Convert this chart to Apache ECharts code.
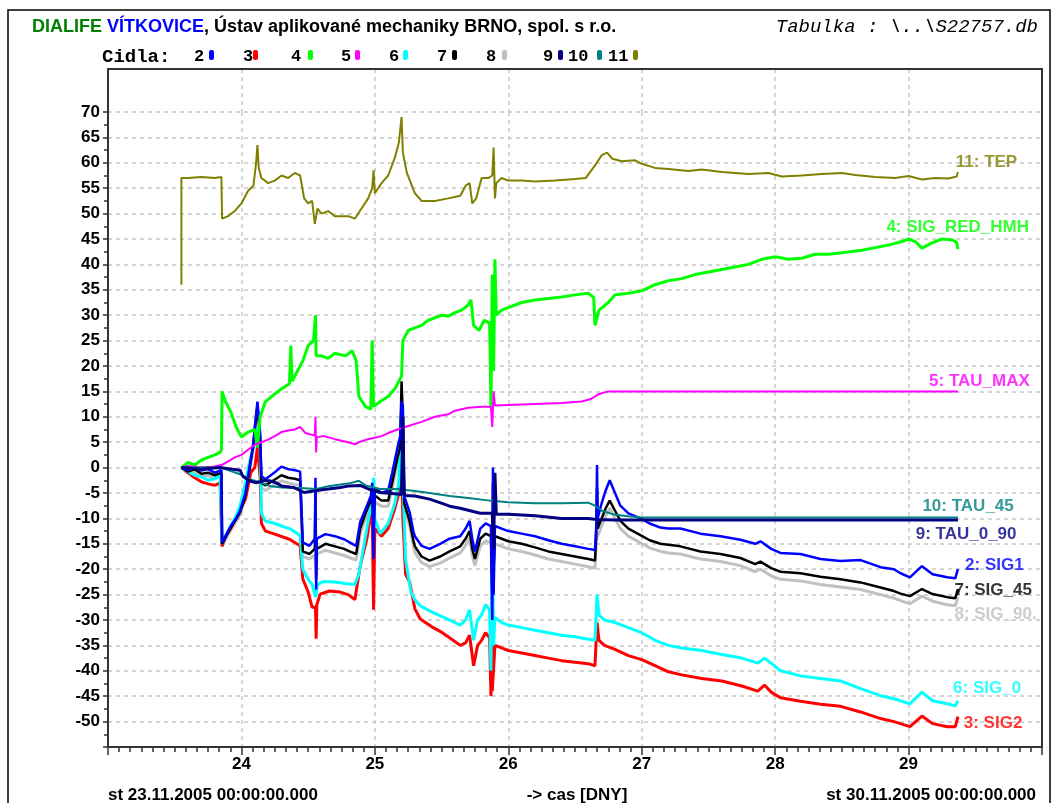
<!DOCTYPE html>
<html>
<head>
<meta charset="utf-8">
<title>Tabulka S22757</title>
<script src="https://cdn.jsdelivr.net/npm/echarts@6/dist/echarts.min.js"></script>
<style>
  html, body { margin: 0; padding: 0; background: #fff; }
  #myChart { width: 1057px; height: 803px; }
</style>
</head>
<body>
<div id="myChart"></div>
<script>
// cas [dny] , hodnota
var tep = [[23.55,36],[23.55,57],[23.6,57],[23.7,57.2],[23.8,57],[23.85,57.2],[23.855,49],[23.9,49.5],[23.95,50.5],[24.0,52],[24.05,54.5],[24.09,55.5],[24.11,60],[24.12,63.5],[24.13,59],[24.15,57],[24.2,56],[24.25,56.5],[24.3,57.5],[24.35,57],[24.4,58],[24.44,57.5],[24.47,53],[24.5,52],[24.53,52.5],[24.55,48],[24.57,51],[24.6,50],[24.65,50.5],[24.7,49.5],[24.8,49.5],[24.85,49],[24.9,51],[24.95,53],[24.98,55],[24.99,58.5],[25.0,54],[25.05,56],[25.1,57.5],[25.15,61],[25.18,64],[25.2,69],[25.21,62],[25.24,58],[25.3,54],[25.35,52.5],[25.45,52.5],[25.55,53],[25.64,53.5],[25.68,55.5],[25.71,56],[25.73,52],[25.76,53],[25.8,57],[25.85,57],[25.88,57.5],[25.89,63],[25.9,53],[25.91,56],[25.95,57],[26.0,56.5],[26.1,56.5],[26.2,56.3],[26.35,56.5],[26.5,56.8],[26.58,57],[26.65,59.5],[26.7,61.5],[26.74,62],[26.78,60.8],[26.85,60.3],[26.95,60.5],[27.0,59.8],[27.1,59],[27.2,58.8],[27.35,58.4],[27.45,58.7],[27.6,58.2],[27.8,57.8],[27.95,58],[28.05,57.3],[28.2,57.5],[28.35,57.8],[28.5,58],[28.6,57.6],[28.75,57.2],[28.9,57],[29.0,57.4],[29.1,56.7],[29.2,57],[29.3,56.9],[29.36,57.3],[29.37,58.2]];
var sigRedHmh = [[23.55,0],[23.6,1],[23.65,0.5],[23.7,1.5],[23.75,2],[23.8,2.5],[23.84,3],[23.85,3.5],[23.855,15],[23.88,13],[23.92,11],[23.96,8],[24.0,6],[24.05,7],[24.1,7.5],[24.12,4],[24.14,10],[24.18,13],[24.25,14.5],[24.3,15.5],[24.36,16.5],[24.37,24],[24.38,17],[24.42,19],[24.46,21],[24.5,24],[24.54,25],[24.555,30],[24.56,22],[24.6,22],[24.65,21.5],[24.7,22.5],[24.78,22],[24.83,23],[24.86,21],[24.88,14],[24.93,12],[24.97,11.5],[24.98,25],[24.99,12],[25.04,13],[25.1,14],[25.15,15.5],[25.18,17],[25.2,18],[25.21,25],[25.25,27],[25.3,27.5],[25.35,28],[25.4,29],[25.45,29.5],[25.5,30],[25.55,29.8],[25.6,30.5],[25.65,31],[25.7,32],[25.72,33],[25.74,28],[25.78,27],[25.82,29],[25.86,28.5],[25.87,12],[25.88,38],[25.89,19],[25.9,41],[25.91,30],[25.95,31],[26.0,31.5],[26.1,32.5],[26.2,33],[26.3,33.3],[26.4,33.6],[26.5,34],[26.6,34.3],[26.64,33.5],[26.65,28],[26.68,31],[26.75,32.5],[26.8,34],[26.9,34.3],[27.0,34.8],[27.1,36],[27.2,36.8],[27.3,37.2],[27.4,38],[27.5,38.5],[27.6,39],[27.7,39.5],[27.8,40],[27.9,41],[28.0,41.5],[28.1,41],[28.2,41.2],[28.3,42],[28.4,42],[28.5,42.3],[28.65,42.8],[28.75,43.3],[28.85,43.8],[28.95,44.5],[29.0,45],[29.05,44.5],[29.1,43.2],[29.18,44.3],[29.25,45],[29.33,44.8],[29.36,44.3],[29.37,43]];
var tauMax = [[23.55,0],[23.6,0.3],[23.7,0],[23.8,0.2],[23.85,0.5],[23.9,1.2],[23.95,2],[24.0,2.5],[24.05,3.5],[24.1,4.5],[24.15,5],[24.2,5.5],[24.25,6.2],[24.3,7],[24.35,7.3],[24.4,7.5],[24.44,8],[24.48,6.8],[24.55,6.3],[24.555,10],[24.56,3],[24.565,6],[24.62,6.2],[24.7,5.6],[24.8,5],[24.85,4.6],[24.9,5.2],[24.95,5.6],[25.05,6.2],[25.1,6.8],[25.17,7.5],[25.25,8.2],[25.35,9],[25.45,10],[25.55,10.5],[25.6,11.2],[25.7,11.8],[25.8,12],[25.87,12],[25.88,8],[25.89,15],[25.9,12.2],[26.0,12.3],[26.2,12.5],[26.4,12.7],[26.55,13],[26.62,13.5],[26.68,14.5],[26.75,15],[27.0,15],[27.5,15],[28.0,15],[28.5,15],[29.0,15],[29.37,15]];
var tau45 = [[23.55,0],[23.7,0],[23.84,0],[23.9,-0.5],[23.99,-1.3],[24.06,-2.3],[24.14,-2.9],[24.21,-3.6],[24.3,-3.9],[24.44,-4],[24.56,-4.2],[24.66,-3.6],[24.81,-3.1],[24.88,-2.6],[24.93,-3.5],[25.04,-4.2],[25.17,-4.2],[25.3,-4.6],[25.41,-5],[25.56,-5.6],[25.7,-6],[25.86,-6.5],[26.0,-6.8],[26.2,-7],[26.4,-7],[26.6,-6.9],[26.65,-7.5],[26.7,-8.5],[26.8,-9.3],[26.9,-9.6],[27.0,-9.8],[27.5,-9.8],[28.0,-9.8],[28.5,-9.8],[29.0,-9.8],[29.37,-9.8]];
var tau090 = [[23.55,0],[23.7,-0.3],[23.84,0],[23.9,-0.2],[23.99,-0.5],[24.01,-1.7],[24.06,-2.6],[24.11,-3],[24.16,-2.6],[24.21,-2.6],[24.26,-3],[24.3,-3.6],[24.39,-3.9],[24.47,-4.9],[24.54,-4.6],[24.62,-4.3],[24.74,-3.9],[24.81,-3.6],[24.89,-3.5],[24.96,-4.3],[25.04,-4.9],[25.17,-5.2],[25.2,-5.3],[25.21,10],[25.22,-5.5],[25.3,-5.6],[25.41,-6.2],[25.52,-7.2],[25.56,-7.6],[25.64,-8],[25.79,-9],[25.88,-9],[25.89,-16],[25.9,-1],[25.91,-9.2],[26.0,-9.2],[26.2,-9.5],[26.4,-10],[26.6,-10],[26.66,-10.2],[26.8,-10.3],[27.0,-10.3],[27.5,-10.3],[28.0,-10.3],[28.5,-10.3],[29.0,-10.3],[29.37,-10.3]];
var sig1 = [[23.55,0],[23.6,-0.5],[23.65,0.3],[23.7,-0.6],[23.75,-0.3],[23.8,-1],[23.85,-0.5],[23.855,-14.7],[23.88,-13.5],[23.92,-11.5],[23.96,-10],[23.99,-8.5],[24.03,-5],[24.06,0],[24.09,5],[24.1,8],[24.12,13],[24.14,7],[24.15,-1.7],[24.18,-2.3],[24.21,-1.7],[24.26,-0.7],[24.3,0.2],[24.35,-0.3],[24.4,-0.5],[24.44,-0.8],[24.45,-8],[24.46,-14.7],[24.51,-15.4],[24.55,-14],[24.555,-2],[24.56,-24],[24.565,-14],[24.63,-13.1],[24.7,-13.5],[24.77,-14.1],[24.81,-14.7],[24.86,-15.4],[24.89,-10.7],[24.93,-8.2],[24.97,-5.6],[24.98,-3],[24.99,-18],[25.0,-4],[25.05,-5],[25.1,-4.5],[25.13,-1],[25.17,4],[25.19,6.2],[25.2,13],[25.21,12],[25.22,-5.6],[25.26,-8.7],[25.29,-12.7],[25.3,-13.5],[25.35,-15.4],[25.41,-16],[25.49,-15],[25.56,-14],[25.64,-13.5],[25.68,-12],[25.71,-10.5],[25.73,-14],[25.75,-16.5],[25.79,-12],[25.83,-11],[25.87,-11.5],[25.88,-30],[25.885,0],[25.89,-25],[25.9,-11.5],[25.95,-12],[26.0,-12.5],[26.1,-13],[26.2,-13.5],[26.3,-14.3],[26.4,-15],[26.5,-15.5],[26.6,-16],[26.65,-16.2],[26.66,-11],[26.665,0.5],[26.67,-10],[26.7,-7],[26.73,-4.5],[26.76,-2.5],[26.8,-5],[26.84,-7.5],[26.9,-9],[26.99,-10],[27.06,-11],[27.14,-11.8],[27.2,-12],[27.29,-12],[27.44,-13],[27.59,-13.5],[27.74,-14.2],[27.85,-15],[27.89,-14.5],[27.97,-16],[28.04,-16.8],[28.19,-17],[28.34,-18],[28.49,-18.4],[28.64,-18.2],[28.79,-19.6],[28.89,-20],[28.94,-20.8],[29.01,-21.6],[29.1,-19.4],[29.18,-21],[29.29,-21.6],[29.35,-21.8],[29.37,-20]];
var sig45 = [[23.55,0],[23.6,-0.8],[23.65,-0.3],[23.7,-1.2],[23.75,-1],[23.8,-1.5],[23.85,-1],[23.855,-15],[23.88,-13.8],[23.92,-11.8],[23.96,-10.2],[23.99,-8.8],[24.03,-5.5],[24.06,-0.5],[24.09,4.5],[24.1,7.5],[24.12,12],[24.14,6],[24.15,-3],[24.18,-3.5],[24.21,-3],[24.26,-2.2],[24.3,-1.5],[24.35,-2],[24.4,-2.2],[24.44,-2.5],[24.45,-9],[24.46,-16.5],[24.51,-17],[24.55,-16],[24.555,-4],[24.56,-22],[24.565,-16],[24.63,-15],[24.7,-15.5],[24.77,-16],[24.81,-16.5],[24.86,-17],[24.89,-12],[24.93,-9],[24.97,-6.5],[24.98,-5],[24.99,-12],[25.0,-5.5],[25.05,-6.5],[25.1,-6.5],[25.13,-3],[25.17,2],[25.19,4],[25.2,17],[25.21,10],[25.22,-7],[25.26,-10.5],[25.29,-14.5],[25.3,-15.5],[25.35,-17.5],[25.41,-18.3],[25.49,-17.5],[25.56,-16.5],[25.64,-15.5],[25.68,-14],[25.71,-12.5],[25.73,-16],[25.75,-18],[25.79,-14],[25.83,-13],[25.87,-13.5],[25.88,-25],[25.885,-3],[25.89,-20],[25.9,-13.5],[25.95,-14],[26.0,-14.5],[26.1,-15],[26.2,-15.7],[26.3,-16.5],[26.4,-17],[26.5,-17.5],[26.6,-18],[26.65,-18.3],[26.66,-13],[26.665,-4],[26.67,-12],[26.7,-10],[26.73,-8],[26.76,-6.5],[26.8,-8.5],[26.84,-10.5],[26.9,-12],[26.99,-13.3],[27.06,-14.3],[27.14,-15],[27.2,-15.2],[27.29,-15.5],[27.44,-16.5],[27.59,-17],[27.74,-17.8],[27.85,-19],[27.89,-18.5],[27.97,-19.8],[28.04,-20.5],[28.19,-20.8],[28.34,-21.5],[28.49,-22],[28.64,-22.6],[28.79,-23.6],[28.89,-24.3],[28.94,-24.8],[29.01,-25.3],[29.1,-23.9],[29.18,-24.9],[29.29,-25.5],[29.35,-25.7],[29.37,-23.9]];
var sig90 = [[23.55,0],[23.6,-1.2],[23.65,-0.8],[23.7,-1.8],[23.75,-1.6],[23.8,-2.2],[23.85,-1.6],[23.855,-15.5],[23.88,-14.2],[23.92,-12.3],[23.96,-10.6],[23.99,-9.3],[24.03,-6],[24.06,-1],[24.09,4],[24.1,7],[24.12,11],[24.14,5],[24.15,-4],[24.18,-4.5],[24.21,-4],[24.26,-3.2],[24.3,-2.6],[24.35,-3],[24.4,-3.3],[24.44,-3.5],[24.45,-10],[24.46,-17.5],[24.51,-18],[24.55,-17.2],[24.56,-21],[24.565,-17],[24.63,-16.3],[24.7,-16.8],[24.77,-17.3],[24.81,-17.7],[24.86,-18.2],[24.89,-13],[24.93,-10],[24.97,-7.5],[24.98,-6.2],[25.0,-6.8],[25.05,-7.6],[25.1,-7.6],[25.13,-4],[25.17,1],[25.19,3],[25.2,9],[25.22,-8],[25.26,-11.5],[25.29,-15.5],[25.3,-16.7],[25.35,-18.7],[25.41,-19.5],[25.49,-18.8],[25.56,-17.8],[25.64,-16.8],[25.68,-15.3],[25.71,-13.8],[25.73,-17.3],[25.75,-19.3],[25.79,-15.4],[25.83,-14.4],[25.87,-14.8],[25.88,-22],[25.89,-18],[25.9,-15],[25.95,-15.5],[26.0,-16],[26.1,-16.5],[26.2,-17.2],[26.3,-18],[26.4,-18.5],[26.5,-19],[26.6,-19.5],[26.65,-19.8],[26.66,-14.5],[26.67,-13.5],[26.7,-11.5],[26.73,-9.5],[26.76,-8],[26.8,-10],[26.84,-12],[26.9,-13.5],[26.99,-14.8],[27.06,-15.8],[27.14,-16.5],[27.2,-16.8],[27.29,-17],[27.44,-18],[27.59,-18.5],[27.74,-19.3],[27.85,-20.5],[27.89,-20],[27.97,-21.3],[28.04,-22],[28.19,-22.3],[28.34,-23],[28.49,-23.5],[28.64,-24],[28.79,-25],[28.89,-25.7],[28.94,-26.2],[29.01,-26.8],[29.1,-25.3],[29.18,-26.3],[29.29,-27],[29.35,-27.2],[29.37,-25.5]];
var sig0 = [[23.55,0],[23.6,-0.8],[23.65,-1.5],[23.7,-1.8],[23.75,-2.5],[23.8,-2.2],[23.84,-1.5],[23.855,-15],[23.88,-13.5],[23.92,-11.5],[23.96,-9.5],[23.99,-7.5],[24.03,-3],[24.06,1],[24.1,5],[24.12,8],[24.14,4],[24.15,-9],[24.18,-10.5],[24.25,-11],[24.3,-11.5],[24.36,-12],[24.42,-13],[24.44,-13.5],[24.46,-20],[24.5,-22],[24.53,-23],[24.555,-25.5],[24.57,-23],[24.62,-22.4],[24.7,-22.5],[24.78,-22.8],[24.85,-23],[24.88,-21],[24.92,-15],[24.96,-9],[24.98,-7],[24.99,-2],[25.0,-10],[25.04,-13],[25.1,-11],[25.15,-7],[25.18,-3],[25.2,12],[25.21,-2],[25.23,-18],[25.27,-24.5],[25.3,-26],[25.34,-27.2],[25.41,-28.2],[25.49,-29.2],[25.56,-30],[25.64,-31],[25.68,-30],[25.71,-28],[25.74,-34],[25.77,-30],[25.8,-29],[25.83,-27],[25.86,-28],[25.87,-40],[25.88,-12],[25.89,-35],[25.9,-29.5],[25.95,-30.5],[26.0,-31],[26.1,-31.5],[26.2,-32],[26.3,-32.5],[26.4,-33],[26.5,-33.3],[26.6,-33.8],[26.65,-34],[26.66,-28],[26.665,-25],[26.68,-29],[26.72,-30],[26.8,-30.5],[26.9,-31.5],[27.0,-32.5],[27.1,-34],[27.2,-35],[27.3,-35.5],[27.45,-36],[27.6,-36.8],[27.75,-37.5],[27.87,-38.5],[27.92,-37.5],[27.97,-38.5],[28.04,-40],[28.19,-41],[28.34,-41.5],[28.49,-42],[28.64,-43.5],[28.79,-44.9],[28.89,-45.5],[29.01,-46.5],[29.1,-44.2],[29.18,-45.9],[29.29,-46.5],[29.35,-46.9],[29.37,-45.9]];
var sig2 = [[23.55,0],[23.6,-1],[23.65,-2],[23.7,-2.8],[23.75,-3.2],[23.8,-3.5],[23.84,-3],[23.855,-15.5],[23.88,-13.5],[23.92,-12],[23.99,-8.2],[24.03,-6.2],[24.07,-1],[24.1,0],[24.12,4],[24.14,-2],[24.15,-11],[24.18,-12.5],[24.25,-13.1],[24.36,-14.1],[24.44,-15.4],[24.46,-21.9],[24.5,-24.5],[24.53,-27.5],[24.555,-27.5],[24.56,-33.7],[24.565,-27],[24.59,-24.9],[24.66,-24.3],[24.74,-24.5],[24.8,-25],[24.85,-26],[24.89,-19.4],[24.94,-14],[24.97,-9],[24.98,-8],[24.99,-28],[25.0,-12],[25.05,-13.5],[25.1,-12],[25.15,-8],[25.18,-5],[25.2,2],[25.21,-10],[25.23,-21],[25.26,-22.5],[25.3,-27.8],[25.34,-29.8],[25.43,-31.4],[25.5,-32.4],[25.56,-33.5],[25.64,-35],[25.68,-34.5],[25.71,-33],[25.74,-39],[25.77,-35],[25.8,-34],[25.83,-32.5],[25.86,-33.5],[25.87,-45],[25.875,-29],[25.88,-44],[25.9,-35],[25.95,-35.5],[26.0,-36],[26.1,-36.5],[26.2,-37],[26.3,-37.5],[26.4,-38],[26.5,-38.3],[26.6,-38.6],[26.65,-39],[26.66,-33],[26.665,-30.5],[26.68,-34],[26.72,-35],[26.8,-35.8],[26.9,-37],[27.0,-37.8],[27.1,-39],[27.2,-40.2],[27.3,-40.8],[27.45,-41.5],[27.6,-42],[27.75,-43],[27.87,-44],[27.92,-42.8],[27.97,-44.2],[28.04,-45.3],[28.19,-46],[28.34,-46.6],[28.49,-47],[28.64,-48.1],[28.79,-49.4],[28.89,-50],[29.01,-51],[29.1,-48.9],[29.18,-50.4],[29.29,-51],[29.35,-51],[29.37,-49]];

// cidla: cislo, barva
var sensorNums = ['2', '3', '4', '5', '6', '7', '8', '9', '10', '11'];
var sensorColors = ['#0000ff', '#ff0000', '#00ff00', '#ff00ff', '#00ffff', '#000000', '#c0c0c0', '#000080', '#008080', '#808000'];

// popisky krivek vpravo (pozice v jednotkach os)
var endNames = ['11: TEP', '4: SIG_RED_HMH', '5: TAU_MAX', '10: TAU_45', '9: TAU_0_90', '2: SIG1', '7: SIG_45', '8: SIG_90.', '6: SIG_0', '3: SIG2'];
var endColors = ['#808000', '#00ff00', '#ff00ff', '#008080', '#000080', '#0000ff', '#000000', '#c0c0c0', '#00ffff', '#ff0000'];
var endX = [29.35, 28.83, 29.15, 29.10, 29.05, 29.42, 29.34, 29.34, 29.33, 29.41];
var endY = [60.0, 47.3, 17.0, -7.7, -13.2, -19.3, -24.2, -28.9, -43.4, -50.3];

var xMin = 23, xMax = 30;
var yMin = -55, yMax = 70;

// rozlozeni legendy "Cidla"
var legNumX = [194, 243, 291, 341, 389, 437, 486, 543, 568, 608];
var legMarkX = [209, 253, 308, 355, 403, 452, 502, 558, 597, 633];

var chart = echarts.init(document.getElementById('myChart'));

function lineSeries(name, data, color, width) {
  return {
    name: name,
    type: 'line',
    data: data,
    symbol: 'none',
    animation: false,
    lineStyle: { color: color, width: width || 2 },
    itemStyle: { color: color },
    xAxisIndex: 0,
    yAxisIndex: 0
  };
}

var gridLine = { show: true, lineStyle: { color: '#c8c8c8', type: [4, 4], width: 1.5 } };
var boldLbl = { color: '#000', fontWeight: 'bold', fontSize: 17, fontFamily: 'Liberation Sans, Arial, sans-serif' };

var graphics = [
  { type: 'rect', shape: { x: 8, y: 10, width: 1042, height: 810 }, style: { fill: 'none', stroke: '#000', lineWidth: 1.5 }, z: 100 },
  { type: 'rect', shape: { x: 108, y: 69, width: 934, height: 678 }, style: { fill: 'none', stroke: '#333', lineWidth: 2 }, z: 100 },
  {
    type: 'text', x: 32, y: 27, z: 100,
    style: {
      text: '{g|DIALIFE} {b|VÍTKOVICE}{k|, Ústav aplikované mechaniky BRNO, spol. s r.o.}',
      verticalAlign: 'middle',
      font: 'bold 18px Liberation Sans',
      rich: {
        g: { fill: '#008000', font: 'bold 18px Liberation Sans' },
        b: { fill: '#0000ff', font: 'bold 18px Liberation Sans' },
        k: { fill: '#000', font: 'bold 18px Liberation Sans' }
      }
    }
  },
  { type: 'text', x: 1038, y: 27, z: 100, style: { text: 'Tabulka : \\..\\S22757.db', align: 'right', verticalAlign: 'middle', font: 'italic 19px Liberation Mono', fill: '#000' } },
  { type: 'text', x: 102, y: 57, z: 100, style: { text: 'Cidla:', verticalAlign: 'middle', font: 'bold 19px Liberation Mono', fill: '#000' } },
  { type: 'text', x: 108, y: 795, z: 100, style: { text: 'st 23.11.2005 00:00:00.000', verticalAlign: 'middle', font: 'bold 17px Liberation Sans', fill: '#000' } },
  { type: 'text', x: 577, y: 795, z: 100, style: { text: '-> cas [DNY]', align: 'center', verticalAlign: 'middle', font: 'bold 17px Liberation Sans', fill: '#000' } },
  { type: 'text', x: 1036, y: 795, z: 100, style: { text: 'st 30.11.2005 00:00:00.000', align: 'right', verticalAlign: 'middle', font: 'bold 17px Liberation Sans', fill: '#000' } }
];

sensorNums.forEach(function (n, i) {
  graphics.push({ type: 'text', x: legNumX[i], y: 57, z: 100, style: { text: n, verticalAlign: 'middle', font: 'bold 17px Liberation Mono', fill: '#000' } });
  graphics.push({ type: 'rect', shape: { x: legMarkX[i], y: 50, width: 5, height: 10, r: 2 }, style: { fill: sensorColors[i] }, z: 100 });
});

var labelData = endNames.map(function (t, i) {
  return { value: [endX[i], endY[i]], name: t, label: { color: endColors[i] } };
});

chart.setOption({
  animation: false,
  backgroundColor: '#fff',
  grid: [
    { left: 108, right: 15, top: 112, bottom: 56 },
    { left: 108, right: 15, top: 69, height: 43 }
  ],
  xAxis: [
    {
      gridIndex: 0, type: 'value', min: xMin, max: xMax, interval: 1,
      axisLine: { show: true, onZero: false, lineStyle: { color: '#333', width: 2 } },
      axisTick: { show: true, length: 8, lineStyle: { color: '#333', width: 1.5 } },
      minorTick: { show: true, splitNumber: 12, length: 5, lineStyle: { color: '#333', width: 1.5 } },
      axisLabel: Object.assign({ margin: 9, showMinLabel: false, showMaxLabel: false }, boldLbl),
      splitLine: gridLine
    },
    {
      gridIndex: 1, type: 'value', min: xMin, max: xMax, interval: 1,
      axisLine: { show: false }, axisTick: { show: false }, axisLabel: { show: false },
      splitLine: gridLine
    }
  ],
  yAxis: [
    {
      gridIndex: 0, type: 'value', min: yMin, max: yMax, interval: 5,
      axisLine: { show: true, onZero: false, lineStyle: { color: '#333', width: 2 } },
      axisTick: { show: true, length: 5, lineStyle: { color: '#333', width: 1.5 } },
      minorTick: { show: true, splitNumber: 2, length: 4, lineStyle: { color: '#333', width: 1.5 } },
      axisLabel: Object.assign({
        margin: 8,
        formatter: function (v) { return v < -50 ? '' : String(v); }
      }, boldLbl),
      splitLine: gridLine
    },
    { gridIndex: 1, type: 'value', min: 0, max: 1, show: false }
  ],
  series: [
    lineSeries('8: SIG_90', sig90, '#c0c0c0', 3),
    lineSeries('3: SIG2', sig2, '#ff0000', 3),
    lineSeries('6: SIG_0', sig0, '#00ffff', 3),
    lineSeries('7: SIG_45', sig45, '#000000', 2.5),
    lineSeries('2: SIG1', sig1, '#0000ff', 2.5),
    lineSeries('4: SIG_RED_HMH', sigRedHmh, '#00ff00', 3),
    lineSeries('5: TAU_MAX', tauMax, '#ff00ff', 2),
    lineSeries('10: TAU_45', tau45, '#008080', 2),
    lineSeries('9: TAU_0_90', tau090, '#000080', 3),
    lineSeries('11: TEP', tep, '#808000', 2),
    {
      type: 'scatter',
      data: labelData,
      symbolSize: 1,
      itemStyle: { color: 'transparent' },
      silent: true,
      label: {
        show: true, position: 'right', distance: 0,
        formatter: function (p) { return p.name; },
        fontWeight: 'bold', fontSize: 17, fontFamily: 'Liberation Sans, Arial, sans-serif'
      },
      z: 20
    }
  ],
  graphic: graphics
});
</script>
</body>
</html>
